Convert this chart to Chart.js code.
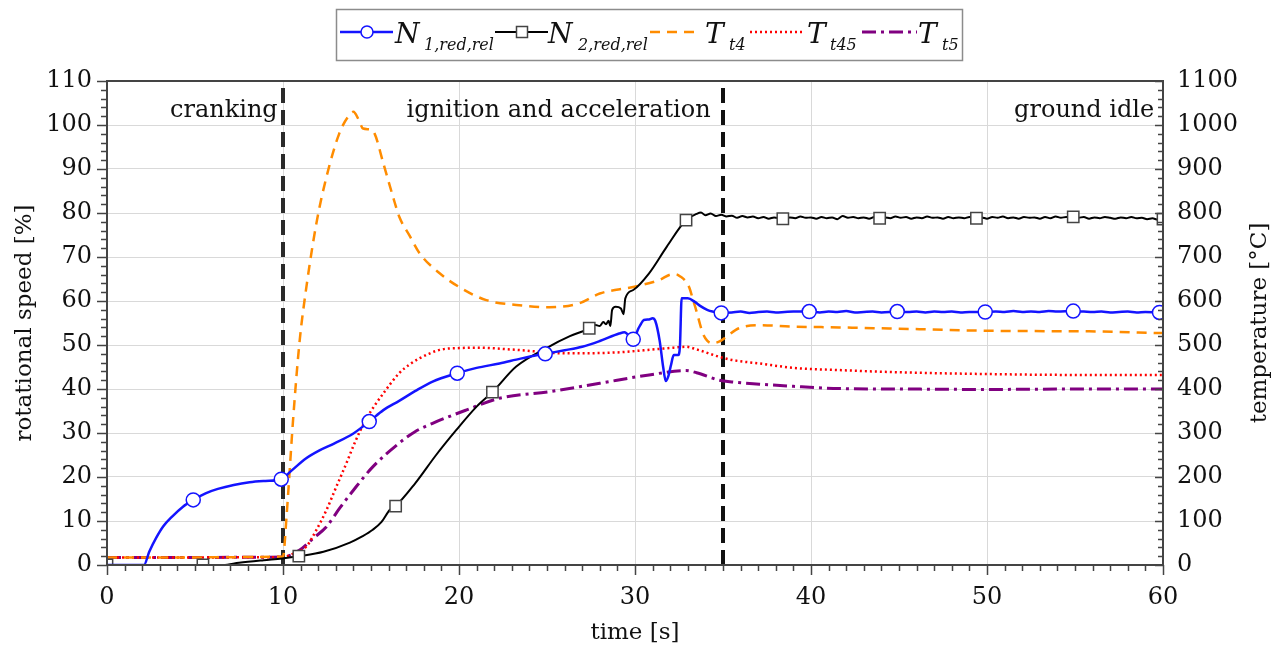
<!DOCTYPE html>
<html>
<head>
<meta charset="utf-8">
<title>Engine start-up</title>
<script src="https://cdn.jsdelivr.net/npm/chart.js@4.4.1/dist/chart.umd.min.js"></script>
<style>
  html, body { margin: 0; padding: 0; background: #fff; }
  #wrap { width: 1284px; height: 651px; }
</style>
</head>
<body>
<div id="wrap"><canvas id="startupChart" width="1284" height="651"></canvas></div>
<script>
// start-up run: rotational speeds (left axis, %) and gas temperatures (right axis, °C) over time

// N1 reduced relative speed [%]
const n1Time = [0, 2.1, 2.4, 2.8, 3.2, 3.7, 4.3, 4.9, 5.6, 6.3, 7.2, 8.1, 9.0, 9.9, 10.5, 11.3, 12.1, 12.9, 14.0, 14.9, 15.7,
    16.6, 17.5, 18.5, 19.9, 21.0, 22.3, 23.5, 24.9, 26.0, 27.0, 28.0, 29.1, 29.4, 29.9, 30.2, 30.3, 30.5, 30.8, 31.0, 31.15,
    31.4, 31.6, 31.75, 31.9, 32.05, 32.2, 32.45, 32.55, 32.65, 33.0, 33.4, 33.7, 34.1, 34.4, 34.9, 35.5, 36.0, 36.5, 37.0, 37.5,
    38.0, 38.5, 39.0, 39.9, 40.5, 41.0, 41.5, 42.0, 42.5, 43.0, 43.5, 44.0, 44.9, 45.5, 46.0, 46.5, 47.0, 47.5, 48.0, 48.5,
    49.0, 49.9, 50.5, 51.0, 51.5, 52.0, 52.5, 53.0, 53.5, 54.0, 54.9, 55.5, 56.0, 56.5, 57.0, 57.5, 58.0, 58.5, 59.0, 59.8, 60.0];
const n1Speed = [0, 0, 3.0, 6.2, 8.8, 11.0, 13.2, 14.8, 16.3, 17.3, 18.2, 18.8, 19.1, 19.5, 21.5, 24.2, 26.1, 27.6, 29.9, 32.6, 35.2,
    37.3, 39.5, 41.7, 43.6, 44.8, 45.8, 46.9, 48.0, 48.8, 49.6, 50.9, 52.6, 52.9, 51.3, 53.8, 54.5, 55.7, 55.8, 56.1, 55.5,
    51.0, 45.0, 41.8, 43.0, 45.5, 47.7, 47.7, 49.5, 60.6, 60.6, 59.8, 58.9, 58.0, 57.6, 57.3, 57.4, 57.6, 57.3, 57.5, 57.6,
    57.4, 57.5, 57.6, 57.6, 57.4, 57.6, 57.5, 57.7, 57.4, 57.5, 57.6, 57.4, 57.6, 57.5, 57.6, 57.4, 57.6, 57.5, 57.6, 57.4,
    57.5, 57.5, 57.6, 57.5, 57.7, 57.5, 57.6, 57.5, 57.7, 57.6, 57.7, 57.6, 57.5, 57.6, 57.4, 57.5, 57.6, 57.4, 57.5, 57.4, 57.4];
const n1MarkerTimes = [4.9, 9.9, 14.9, 19.9, 24.9, 29.9, 34.9, 39.9, 44.9, 49.9, 54.9, 59.8];

// N2 reduced relative speed [%]
const n2Time = [0, 5.45, 6.6, 7.5, 8.9, 9.95, 10.9, 12.3, 13.8, 14.5, 15.1, 15.6, 16.06, 16.4, 17.5, 18.7, 19.85, 21.0, 21.9, 23.25,
    25.1, 26.3, 27.4, 27.7, 28.0, 28.2, 28.35, 28.5, 28.6, 28.7, 28.9, 29.2, 29.35, 29.45, 29.9, 30.8, 31.8, 32.9, 33.5, 33.75,
    34.0, 34.3, 34.6, 34.9, 35.2, 35.5, 35.8, 36.1, 36.4, 36.7, 37.0, 37.3, 37.6, 37.9, 38.4, 38.8, 39.1, 39.4, 39.7, 40.0,
    40.3, 40.6, 40.9, 41.2, 41.5, 41.8, 42.1, 42.4, 42.7, 43.0, 43.3, 43.6, 43.9, 44.2, 44.5, 44.8, 45.1, 45.4, 45.7, 46.0,
    46.3, 46.6, 46.9, 47.2, 47.5, 47.8, 48.1, 48.4, 48.7, 49.0, 49.4, 49.7, 50.0, 50.3, 50.6, 50.9, 51.2, 51.5, 51.8, 52.1,
    52.4, 52.7, 53.0, 53.3, 53.6, 53.9, 54.2, 54.5, 54.9, 55.2, 55.5, 55.8, 56.1, 56.4, 56.7, 57.0, 57.3, 57.6, 57.9, 58.2,
    58.5, 58.8, 59.1, 59.4, 59.7, 60.0];
const n2Speed = [0, 0, 0, 0.5, 1.1, 1.5, 2.0, 3.0, 5.1, 6.5, 8.0, 9.8, 12.5, 13.4, 18.5, 25.0, 30.7, 36.0, 39.3, 45.1,
    49.6, 52.0, 53.8, 54.6, 54.3, 55.2, 54.7, 55.5, 54.3, 58.0, 58.7, 58.3, 57.0, 60.6, 62.5, 66.3, 72.3, 78.4, 79.8, 80.1,
    79.5, 79.9, 79.3, 79.6, 79.2, 79.4, 78.9, 79.3, 79.0, 79.2, 78.8, 79.1, 78.7, 79.0, 78.7, 79.0, 78.8, 79.2, 78.9, 79.0,
    78.7, 79.1, 78.8, 79.0, 78.6, 79.3, 78.9, 79.1, 78.8, 79.0, 78.7, 79.1, 78.8, 79.0, 78.8, 79.2, 78.9, 79.1, 78.7, 79.0,
    78.8, 79.2, 78.9, 79.0, 78.7, 79.1, 78.8, 79.0, 78.8, 79.1, 78.8, 79.0, 78.7, 79.1, 78.9, 79.2, 78.8, 79.0, 78.7, 79.1,
    78.9, 79.0, 78.7, 79.1, 78.8, 79.2, 78.9, 79.1, 79.1, 78.9, 79.1, 78.7, 79.0, 78.8, 79.1, 78.9, 78.7, 79.0, 78.8, 79.1,
    78.8, 78.9, 78.6, 78.8, 78.5, 78.6];
const n2MarkerTimes = [0, 5.45, 10.9, 16.4, 21.9, 27.4, 32.9, 38.4, 43.9, 49.4, 54.9, 60.0];

// total temperatures [°C]
const t4Time = [0, 10.0, 10.2, 10.6, 10.95, 11.33, 11.9, 12.47, 13.2, 13.7, 14.0, 14.3, 14.55, 14.95, 15.2, 15.7, 16.25, 16.6, 17.2, 17.77,
    18.9, 20.0, 21.55, 23.25, 25.15, 26.85, 28.0, 29.9, 31.4, 32.0, 32.3, 32.6, 32.9, 33.1, 33.3, 33.47, 33.85, 34.1, 34.4, 34.8,
    35.2, 35.9, 37.1, 38.8, 41.6, 45.0, 50.7, 55.8, 60.0];
const t4Temp = [17, 19, 110, 345, 511, 632, 777, 882, 981, 1019, 1030, 1012, 992, 990, 981, 913, 837, 792, 748, 708,
    663, 632, 602, 591, 586, 595, 617, 632, 648, 660, 661, 655, 644, 629, 602, 580, 527, 510, 504, 508,
    519, 538, 545, 542, 540, 537, 532, 531, 527];

const t45Time = [0, 10.0, 10.6, 11.33, 11.9, 12.47, 13.0, 13.6, 14.1, 14.7, 15.2, 15.7, 16.6, 17.2, 17.77, 18.9, 20.0, 21.0, 23.25, 26.1,
    28.9, 30.8, 32.2, 32.9, 33.5, 34.8, 35.5, 37.07, 39.0, 41.6, 45.0, 50.0, 55.0, 60.0];
const t45Temp = [17, 18, 26, 42, 80, 125, 175, 231, 280, 330, 362, 390, 436, 456, 470, 489, 493, 494, 489, 481,
    483, 489, 494, 496, 490, 473, 466, 458, 448, 443, 438, 434, 432, 432];

const t5Time = [0, 10.0, 10.95, 11.7, 12.47, 13.2, 14.0, 15.1, 16.6, 17.5, 18.5, 20.4, 22.3, 25.15, 28.0, 30.8, 32.9, 33.5, 34.8, 35.5,
    37.07, 39.0, 41.6, 45.0, 50.0, 55.0, 60.0];
const t5Temp = [17, 18, 34, 60, 87, 128, 170, 223, 277, 303, 322, 352, 379, 394, 413, 432, 442, 437, 420, 416,
    411, 406, 401, 400, 399, 400, 400];

// phases
const phaseBounds = [10, 35];
const phaseLabels = ['cranking', 'ignition and acceleration', 'ground idle'];
const phaseLabelEnds = [9.7, 34.3, 59.5];

const SERIF = '"DejaVu Serif", "Liberation Serif", serif';
const INK = '#111';

const toPoints = (xs, ys) => xs.map((x, i) => ({ x: x, y: ys[i] }));
const markerRadius = (times, r) => (c) => (c.raw && times.includes(c.raw.x)) ? r : 0;
const plainTick = (v) => String(v);

const datasets = [
    {
        label: 'N 1,red,rel', legendMain: 'N', legendSub: '1,red,rel',
        data: toPoints(n1Time, n1Speed), yAxisID: 'y',
        borderColor: '#1414ff', borderWidth: 2.5, cubicInterpolationMode: 'monotone',
        pointStyle: 'circle', pointRadius: markerRadius(n1MarkerTimes, 7),
        pointBackgroundColor: '#fff', pointBorderColor: '#1414ff', pointBorderWidth: 1.5, clip: 0
    },
    {
        label: 'N 2,red,rel', legendMain: 'N', legendSub: '2,red,rel',
        data: toPoints(n2Time, n2Speed), yAxisID: 'y',
        borderColor: '#000', borderWidth: 2, cubicInterpolationMode: 'monotone',
        pointStyle: 'rect', pointRadius: markerRadius(n2MarkerTimes, 8),
        pointBackgroundColor: '#fff', pointBorderColor: '#444', pointBorderWidth: 1.5, clip: 0
    },
    {
        label: 'T t4', legendMain: 'T', legendSub: 't4',
        data: toPoints(t4Time, t4Temp), yAxisID: 'y1',
        borderColor: '#ff8c00', borderWidth: 2.5, borderDash: [10, 7],
        cubicInterpolationMode: 'monotone', pointRadius: 0, clip: 0
    },
    {
        label: 'T t45', legendMain: 'T', legendSub: 't45',
        data: toPoints(t45Time, t45Temp), yAxisID: 'y1',
        borderColor: '#ff0000', borderWidth: 2.5, borderDash: [2, 3],
        cubicInterpolationMode: 'monotone', pointRadius: 0, clip: 0
    },
    {
        label: 'T t5', legendMain: 'T', legendSub: 't5',
        data: toPoints(t5Time, t5Temp), yAxisID: 'y1',
        borderColor: '#800080', borderWidth: 3, borderDash: [14, 5, 3, 5],
        cubicInterpolationMode: 'monotone', pointRadius: 0, clip: 0
    }
];

// phase boundaries as vertical dashed lines
phaseBounds.forEach((b, i) => {
    datasets.push({
        label: 'phase ' + b, isPhase: true,
        data: [{ x: b, y: 0 }, { x: b, y: 110 }], yAxisID: 'y',
        borderColor: i === 0 ? '#2a2a2a' : '#111', borderWidth: 4, borderDash: [15, 7], pointRadius: 0, clip: 0
    });
});

// legend slots (sample line start/end, text x positions)
const legendSlots = [
    { x0: 340, x1: 393, mx: 367, tx: 395, sx: 424 },
    { x0: 495, x1: 548, mx: 522, tx: 548, sx: 578 },
    { x0: 650, x1: 700, tx: 705, sx: 729 },
    { x0: 750, x1: 805, tx: 807, sx: 830 },
    { x0: 862, x1: 917, tx: 918, sx: 942 }
];

const framePlugin = {
    id: 'framePlugin',
    afterDraw(chart) {
        const { ctx, chartArea, scales } = chart;
        const { left, right, top, bottom } = chartArea;
        const x = scales.x, y = scales.y, y1 = scales.y1;
        ctx.save();

        // tick marks (major + minor)
        ctx.strokeStyle = '#444';
        ctx.lineWidth = 1.5;
        ctx.beginPath();
        for (let s = 0; s <= 60; s++) {
            const px = Math.round(x.getPixelForValue(s)) + 0.5;
            const len = s % 10 === 0 ? 10 : 6;
            ctx.moveTo(px, bottom); ctx.lineTo(px, bottom + len);
        }
        for (let v = 0; v <= 110; v += 2) {
            const py = Math.round(y.getPixelForValue(v)) + 0.5;
            const len = v % 10 === 0 ? 10 : 6;
            ctx.moveTo(left, py); ctx.lineTo(left - len, py);
        }
        for (let t = 0; t <= 1100; t += 20) {
            const py = Math.round(y1.getPixelForValue(t)) + 0.5;
            const len = t % 100 === 0 ? 8 : 5;
            ctx.moveTo(right, py); ctx.lineTo(right - len, py);
        }
        ctx.stroke();

        // frame
        ctx.lineWidth = 2;
        ctx.strokeRect(left, top, right - left, bottom - top);

        // phase labels
        ctx.fillStyle = INK;
        ctx.font = '24px ' + SERIF;
        ctx.textAlign = 'right';
        ctx.textBaseline = 'alphabetic';
        phaseLabels.forEach((txt, i) => {
            ctx.fillText(txt, x.getPixelForValue(phaseLabelEnds[i]), top + 36);
        });

        // right axis title (reads bottom to top)
        ctx.save();
        ctx.translate(1260, (top + bottom) / 2);
        ctx.rotate(-Math.PI / 2);
        ctx.textAlign = 'center';
        ctx.textBaseline = 'middle';
        ctx.font = '23px ' + SERIF;
        ctx.fillText('temperature [°C]', 0, 0);
        ctx.restore();

        // legend
        ctx.strokeStyle = '#8c8c8c';
        ctx.lineWidth = 1.5;
        ctx.strokeRect(336.5, 9.5, 626, 51);
        const ly = 32;
        chart.data.datasets.filter(d => !d.isPhase).forEach((d, i) => {
            const slot = legendSlots[i];
            ctx.strokeStyle = d.borderColor;
            ctx.lineWidth = d.borderWidth;
            ctx.setLineDash(d.borderDash || []);
            ctx.beginPath();
            ctx.moveTo(slot.x0, ly); ctx.lineTo(slot.x1, ly);
            ctx.stroke();
            ctx.setLineDash([]);
            if (d.pointStyle === 'circle') {
                ctx.fillStyle = '#fff';
                ctx.strokeStyle = d.pointBorderColor;
                ctx.lineWidth = 1.5;
                ctx.beginPath();
                ctx.arc(slot.mx, ly, 6, 0, Math.PI * 2);
                ctx.fill(); ctx.stroke();
            } else if (d.pointStyle === 'rect') {
                ctx.fillStyle = '#fff';
                ctx.strokeStyle = d.pointBorderColor;
                ctx.lineWidth = 1.5;
                ctx.fillRect(slot.mx - 5.5, ly - 5.5, 11, 11);
                ctx.strokeRect(slot.mx - 5.5, ly - 5.5, 11, 11);
            }
            ctx.fillStyle = INK;
            ctx.textAlign = 'left';
            ctx.textBaseline = 'alphabetic';
            ctx.font = 'italic 28px ' + SERIF;
            ctx.fillText(d.legendMain, slot.tx, 43);
            ctx.font = 'italic 16px ' + SERIF;
            ctx.fillText(d.legendSub, slot.sx, 50);
        });

        ctx.restore();
    }
};

Chart.defaults.font.family = SERIF;
Chart.defaults.color = INK;

new Chart(document.getElementById('startupChart'), {
    type: 'line',
    data: { datasets: datasets },
    options: {
        responsive: false,
        animation: false,
        devicePixelRatio: 1,
        layout: { padding: { top: 81, left: 0, right: 0, bottom: 0 } },
        plugins: { legend: { display: false }, tooltip: { enabled: false } },
        scales: {
            x: {
                type: 'linear', min: 0, max: 60,
                ticks: { stepSize: 10, padding: 18, maxRotation: 0, font: { size: 24 }, color: INK, callback: plainTick },
                grid: { color: '#d9d9d9', lineWidth: 1, drawTicks: false },
                border: { display: false },
                title: { display: true, text: 'time [s]', font: { size: 23 }, color: INK, padding: { top: 0, bottom: 4 } },
                afterFit: (s) => { s.height = 86; }
            },
            y: {
                position: 'left', min: 0, max: 110,
                ticks: { stepSize: 10, padding: 15, font: { size: 24 }, color: INK, callback: plainTick },
                grid: { color: '#d9d9d9', lineWidth: 1, drawTicks: false },
                border: { display: false },
                title: { display: true, text: 'rotational speed [%]', font: { size: 23 }, color: INK, padding: { top: 11, bottom: 0 } },
                afterFit: (s) => { s.width = 107; }
            },
            y1: {
                position: 'right', min: 0, max: 1100,
                ticks: { stepSize: 100, padding: 14, font: { size: 24 }, color: INK, callback: plainTick },
                grid: { display: false, drawTicks: false },
                border: { display: false },
                afterFit: (s) => { s.width = 121; }
            }
        }
    },
    plugins: [framePlugin]
});
</script>
</body>
</html>
